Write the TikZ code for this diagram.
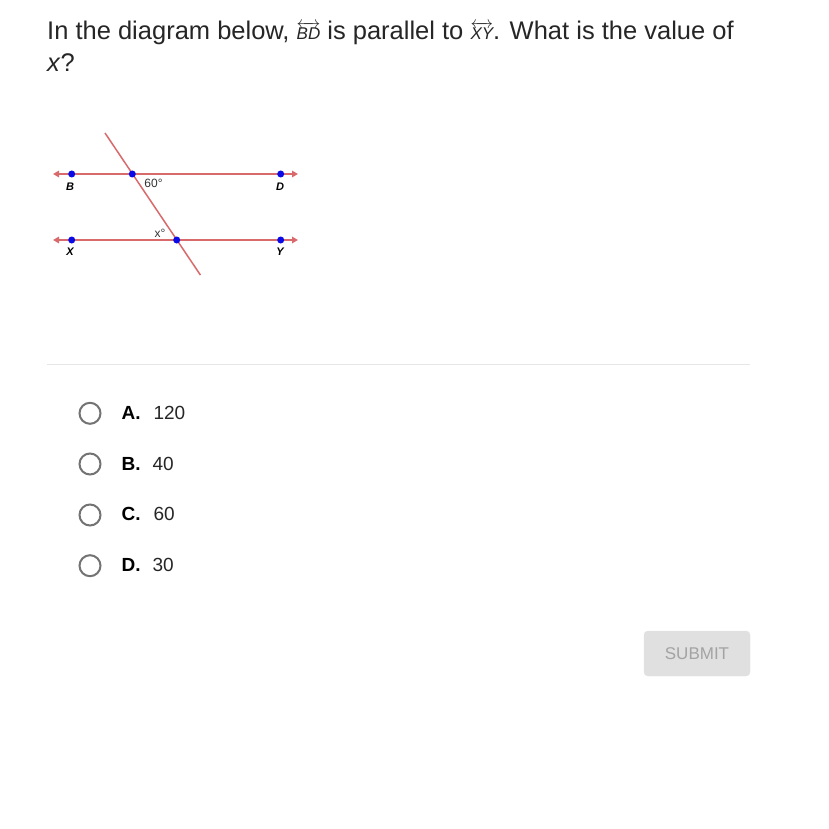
\documentclass[tikz,border=0pt]{standalone}
\usepackage{amsmath}
\usepackage{fontspec}
\setmainfont{Liberation Sans}
\usetikzlibrary{arrows.meta}
\definecolor{linered}{HTML}{D96A6C}
\definecolor{dotblue}{HTML}{0A0AE6}
\definecolor{radiogray}{HTML}{737373}
\definecolor{rulegray}{HTML}{E6E6E6}
\definecolor{btnfill}{HTML}{E0E0E0}
\definecolor{btntext}{HTML}{A3A3A3}

\begin{document}
\begin{tikzpicture}[x=1pt, y=-1pt,
    ray/.style={draw=linered, line width=1.5pt, {Triangle[length=6pt,width=6.5pt]}-{Triangle[length=6pt,width=6.5pt]}},
    cut/.style={draw=linered, line width=1.5pt},
    pt/.style={circle, fill=dotblue, inner sep=0pt, minimum size=7pt},
    ptlabel/.style={font=\fontsize{11}{13}\selectfont\bfseries\itshape},
    anglabel/.style={font=\fontsize{12}{14}\selectfont, text=black!80},
    radio/.style={circle, draw=radiogray, line width=2pt, inner sep=0pt, minimum size=21pt},
    letter/.style={anchor=base west, font=\fontsize{19}{23}\selectfont\bfseries},
    value/.style={anchor=base west, font=\fontsize{19}{23}\selectfont, text=black!85}]
      \useasboundingbox[fill=white] (0,0) rectangle (828,829);

      % question
      \node[anchor=base west, inner sep=0pt, font=\fontsize{25.5}{30}\selectfont, text=black!85] (q1) at (47,40)
        {In the diagram below, {\fontsize{17}{20}\selectfont$\overleftrightarrow{\mathit{BD}}$} is parallel to {\fontsize{17}{20}\selectfont$\overleftrightarrow{\mathit{XY}}$}. What is the value of};
      \node[anchor=base west, inner sep=0pt, font=\fontsize{25.5}{30}\selectfont, text=black!85] (q2) at (47,72) {\textit{x}?};

      % lines
      \coordinate (BL) at (53,174);
      \coordinate (BR) at (298,174);
      \coordinate (XL) at (53,240);
      \coordinate (XR) at (298,240);
      \coordinate (T1) at (105,133);
      \coordinate (T2) at (200.4,275);
      \draw[ray] (BL) -- (BR);
      \draw[ray] (XL) -- (XR);
      \draw[cut] (T1) -- (T2);

      % points
      \node[pt] (B) at (71.7,174) {};
      \node[pt] (P) at (132.3,174) {};
      \node[pt] (D) at (280.7,174) {};
      \node[pt] (X) at (71.7,240) {};
      \node[pt] (Q) at (176.7,240) {};
      \node[pt] (Y) at (280.7,240) {};

      \node[ptlabel] (lB) at (70,186.5) {B};
      \node[ptlabel] (lD) at (280,186.5) {D};
      \node[ptlabel] (lX) at (70,252) {X};
      \node[ptlabel] (lY) at (280,252) {Y};
      \node[anglabel] (a60) at (153.5,183) {60°};
      \node[anglabel] (ax) at (160,233) {x°};

      % separator
      \draw[rulegray, line width=1pt] (47,364) -- (750,364);

      % choices
      \node[radio] (rA) at (90,413.3) {};
      \node[radio] (rB) at (90,464) {};
      \node[radio] (rC) at (90,515) {};
      \node[radio] (rD) at (90,565.7) {};
      \node[letter] (cA) at (118,419.3) {A.};
      \node[letter] (cB) at (118,470) {B.};
      \node[letter] (cC) at (118,520.7) {C.};
      \node[letter] (cD) at (118,571.7) {D.};
      \node[value] (vA) at (150,419.3) {120};
      \node[value] (vB) at (149,470) {40};
      \node[value] (vC) at (150,520.7) {60};
      \node[value] (vD) at (149,571.7) {30};

      % button
      \draw[fill=btnfill, draw=btnfill, rounded corners=4pt] (644,631) rectangle (750,676);
      \node[font=\fontsize{17}{20}\selectfont, text=btntext] (sub) at (697,654) {SUBMIT};
    \end{tikzpicture}
\end{document}
